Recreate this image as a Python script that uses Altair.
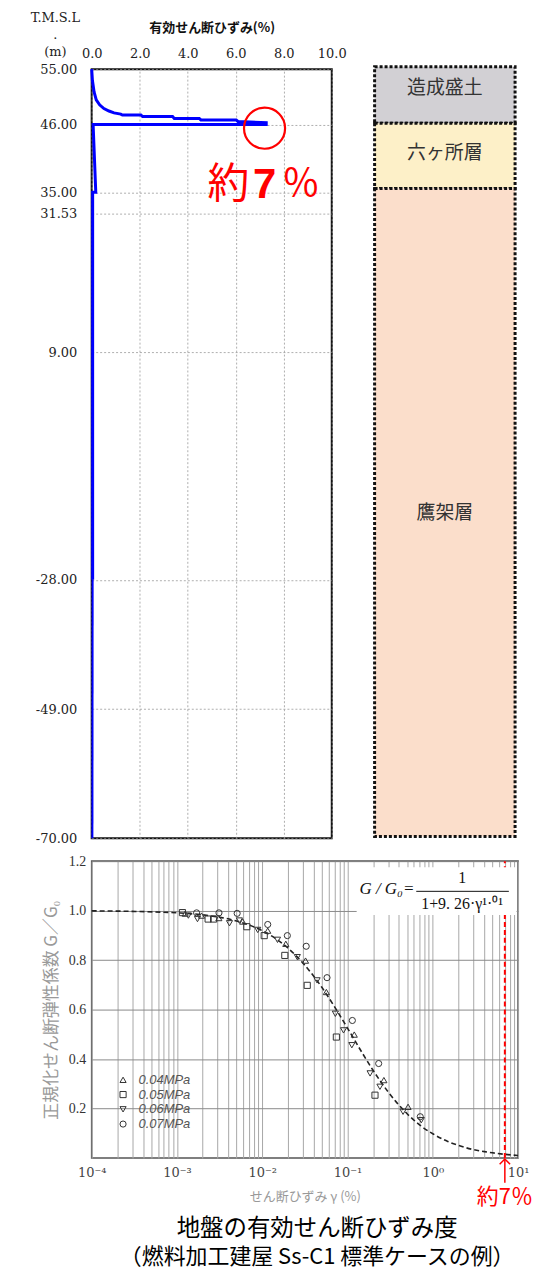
import json
import altair as alt
import pandas as pd

FONT_SERIF = "DejaVu Serif"
FONT_TIMES = "Liberation Serif"
FONT_JP = "Noto Sans CJK JP"

# ---------------- top: effective shear strain profile ----------------
profile_strain = [0.00, 0.03, 0.10, 0.19, 0.33, 0.51, 0.72, 0.93, 1.21, 1.28, 2.05, 2.12,
                  3.37, 3.44, 4.48, 4.55, 6.02, 6.09, 7.27, 7.27, 0.06, 0.17, 0.04, 0.04]
profile_elev = [55.0, 53.2, 51.3, 50.0, 49.2, 48.6, 48.2, 47.9, 47.7, 47.55, 47.55, 47.3,
                47.3, 47.0, 47.0, 46.75, 46.75, 46.5, 46.3, 46.0, 46.0, 35.0, 35.0, -28.0]
lower_strain = [0.04, 0.03]
lower_elev = [-28.0, -70.0]

strain_ticks = [0, 2, 4, 6, 8, 10]
elev_ticks = [55, 46, 35, 31.53, 9, -28, -49, -70]

peak_strain = [7.2]
peak_elev = [45.4]

# soil layers
layer_names = ["造成盛土", "六ヶ所層", "鷹架層"]
layer_top = [55.4, 46.2, 35.6]
layer_bottom = [46.2, 35.6, -69.7]
layer_label_elev = [52.0, 41.3, -17.2]
layer_colors = ["#d2d0d4", "#fdf0c8", "#fbdecb"]

# ---------------- bottom: G/G0 - gamma ----------------
curve_gamma = [0.0001, 0.0003, 0.001, 0.002, 0.005, 0.01, 0.02, 0.03, 0.05, 0.07, 0.1, 0.15,
               0.2, 0.3, 0.5, 0.7, 1.0, 1.5, 2.0, 3.0, 5.0, 7.0, 10.0]
curve_G = [0.999, 0.997, 0.991, 0.983, 0.958, 0.919, 0.849, 0.788, 0.690, 0.613, 0.525, 0.423,
           0.354, 0.267, 0.179, 0.134, 0.098, 0.067, 0.051, 0.034, 0.021, 0.015, 0.010]

p04_gamma = [0.00125, 0.00194, 0.0031, 0.0059, 0.0116, 0.0189, 0.0322, 0.0565, 0.12, 0.267, 0.513]
p04_G = [0.988, 0.980, 0.970, 0.956, 0.919, 0.866, 0.798, 0.671, 0.499, 0.315, 0.207]
p05_gamma = [0.00116, 0.00232, 0.00269, 0.0066, 0.01055, 0.0184, 0.0337, 0.074, 0.21]
p05_G = [0.992, 0.966, 0.966, 0.935, 0.899, 0.819, 0.698, 0.489, 0.254]
p06_gamma = [0.00136, 0.00174, 0.00413, 0.0054, 0.00885, 0.0151, 0.0258, 0.044, 0.072, 0.0898,
             0.1124, 0.184, 0.24, 0.448, 0.733]
p06_G = [0.980, 0.966, 0.949, 0.960, 0.922, 0.882, 0.812, 0.718, 0.583, 0.516, 0.456, 0.342,
         0.288, 0.187, 0.153]
p07_gamma = [0.0017, 0.00311, 0.00508, 0.0116, 0.0197, 0.0328, 0.0575, 0.114, 0.232, 0.713]
p07_G = [0.991, 0.991, 0.989, 0.944, 0.899, 0.856, 0.729, 0.556, 0.382, 0.167]

pressure_names = ["0.04MPa", "0.05MPa", "0.06MPa", "0.07MPa"]
pressure_shapes = ["triangle-up", "square", "triangle-down", "circle"]

decade_values = [0.0001, 0.001, 0.01, 0.1, 1, 10]
decade_labels = ["10⁻⁴", "10⁻³", "10⁻²", "10⁻¹", "10⁰", "10¹"]
minor_values = [m * d for d in decade_values[:-1] for m in range(1, 10)] + [10]
G_ticks = [0.2, 0.4, 0.6, 0.8, 1.0, 1.2]

marker_gamma = [7.0]

LEFT_EXTENT = 70

# ======================= TOP CHART =======================
prof_df = pd.DataFrame({"strain": profile_strain, "elev": profile_elev,
                        "idx": list(range(len(profile_strain)))})
low_df = pd.DataFrame({"strain": lower_strain, "elev": lower_elev, "idx": [0, 1]})

xs = alt.Scale(domain=[0, 10], nice=False)
ys = alt.Scale(domain=[-70, 55], nice=False, zero=False)

x_axis = alt.Axis(orient="top", values=strain_ticks, format=".1f",
                  title="有効せん断ひずみ(%)", titleFont=FONT_JP, titleFontSize=13,
                  titleFontWeight="bold", titleColor="#111", titlePadding=13,
                  labelFont=FONT_SERIF, labelFontSize=13, labelColor="#222",
                  labelPadding=9, labelFlush=False, ticks=False, domain=False,
                  grid=True, gridColor="#9a9a9a", gridDash=[2, 2], gridWidth=0.8)
y_axis = alt.Axis(values=elev_ticks,
                  labelExpr="replace(format(datum.value, '.2f'), '\u2212', '-')",
                  title=["T.M.S.L", ".", "(m)"], titleAngle=0, titleAlign="center",
                  titleBaseline="top", titleX=-37, titleY=-58, titleFont=FONT_SERIF,
                  titleFontSize=13, titleFontWeight="normal", titleColor="#222",
                  titleLineHeight=17, minExtent=LEFT_EXTENT,
                  labelFont=FONT_SERIF, labelFontSize=13, labelColor="#222",
                  labelPadding=15, ticks=False, domain=False,
                  grid=True, gridColor="#9a9a9a", gridDash=[2, 2], gridWidth=0.8)

line_main = alt.Chart(prof_df).mark_line(color="#0000ff", strokeWidth=3).encode(
    x=alt.X("strain:Q", scale=xs, axis=x_axis),
    y=alt.Y("elev:Q", scale=ys, axis=y_axis),
    order="idx:Q")
line_low = alt.Chart(low_df).mark_line(color="#0000ff", strokeWidth=2).encode(
    x=alt.X("strain:Q", scale=xs), y=alt.Y("elev:Q", scale=ys), order="idx:Q")

peak_df = pd.DataFrame({"strain": peak_strain, "elev": peak_elev})
peak_circle = alt.Chart(peak_df).mark_point(shape="circle", size=1700, filled=False,
                                            stroke="#ff0000", strokeWidth=2.2, opacity=1).encode(
    x=alt.X("strain:Q", scale=xs), y=alt.Y("elev:Q", scale=ys))

ann_df = pd.DataFrame({"strain": [5.70, 7.2, 8.71], "elev": [36.2, 36.2, 36.2],
                       "t": ["約", "7", "％"]})
ann1 = alt.Chart(ann_df.iloc[[0]]).mark_text(font=FONT_JP, fontSize=42, color="#ff0000",
                                             baseline="middle").encode(
    x=alt.X("strain:Q", scale=xs), y=alt.Y("elev:Q", scale=ys), text="t:N")
ann2 = alt.Chart(ann_df.iloc[[1]]).mark_text(font="Liberation Sans", fontSize=42,
                                             fontWeight="bold", color="#ff0000",
                                             baseline="middle").encode(
    x=alt.X("strain:Q", scale=xs), y=alt.Y("elev:Q", scale=ys), text="t:N")
ann3 = alt.Chart(ann_df.iloc[[2]]).mark_text(font=FONT_JP, fontSize=38, color="#ff0000",
                                             baseline="middle").encode(
    x=alt.X("strain:Q", scale=xs), y=alt.Y("elev:Q", scale=ys), text="t:N")

top_chart = alt.layer(line_low, line_main, peak_circle, ann1, ann2, ann3).properties(
    width=241, height=772,
    view=alt.ViewBackground(stroke="#111", strokeWidth=2))

# ======================= LAYER BOXES =======================
layer_df = pd.DataFrame({"name": layer_names, "top": layer_top, "bottom": layer_bottom,
                         "lab": layer_label_elev, "x0": [0, 0, 0], "x1": [1, 1, 1],
                         "xm": [0.5, 0.5, 0.5]})
bxs = alt.Scale(domain=[0, 1], nice=False)
boxes = alt.Chart(layer_df).mark_rect(stroke="#111", strokeWidth=3, strokeDash=[3, 2]).encode(
    x=alt.X("x0:Q", scale=bxs, axis=None), x2="x1:Q",
    y=alt.Y("top:Q", scale=ys, axis=None), y2="bottom:Q",
    fill=alt.Fill("name:N", scale=alt.Scale(domain=layer_names, range=layer_colors), legend=None))
box_text = alt.Chart(layer_df).mark_text(font=FONT_JP, fontSize=19, color="#333").encode(
    x=alt.X("xm:Q", scale=bxs, axis=None), y=alt.Y("lab:Q", scale=ys, axis=None), text="name:N")
box_chart = alt.layer(boxes, box_text).properties(
    width=141, height=772, view=alt.ViewBackground(stroke="transparent"))

# ======================= BOTTOM CHART =======================
curve_df = pd.DataFrame({"gamma": curve_gamma, "G": curve_G})
pts = []
for name, gs, Gs in zip(pressure_names, [p04_gamma, p05_gamma, p06_gamma, p07_gamma],
                        [p04_G, p05_G, p06_G, p07_G]):
    for g, v in zip(gs, Gs):
        pts.append({"gamma": g, "G": v, "p": name})
pts_df = pd.DataFrame(pts)

gxs = alt.Scale(type="log", domain=[0.0001, 10], nice=False)
gys = alt.Scale(domain=[0, 1.2], nice=False)

label_expr = ("abs(log(datum.value)/LN10 - round(log(datum.value)/LN10)) < 0.01 ? "
              + json.dumps(decade_labels, ensure_ascii=False)
              + "[round(log(datum.value)/LN10) + 4] : ''")

gx_axis = alt.Axis(values=minor_values, labelExpr=label_expr, labelFont=FONT_SERIF,
                   labelFontSize=13, labelColor="#444", labelPadding=9, labelFlush=False,
                   labelOverlap=False, ticks=False, domain=False, grid=True,
                   gridColor="#a8a8a8", gridWidth=1,
                   title="せん断ひずみ γ (%)", titleFont=FONT_JP, titleFontSize=13,
                   titleFontWeight="normal", titleColor="#999", titlePadding=11)
gy_axis = alt.Axis(values=G_ticks, format=".1f", labelFont=FONT_TIMES, labelFontSize=14,
                   labelColor="#333", labelPadding=6, ticks=False, domain=False, grid=True,
                   gridColor="#8a8a8a", gridWidth=1, minExtent=LEFT_EXTENT,
                   title="正規化せん断弾性係数 G／G₀", titleFont=FONT_JP, titleFontSize=17,
                   titleFontWeight="normal", titleColor="#999", titleX=-40, titleY=149,
                   titleAngle=-90, titleAlign="center", titleBaseline="middle")

curve = alt.Chart(curve_df).mark_line(color="#222", strokeWidth=1.6, strokeDash=[5, 3],
                                      interpolate="monotone").encode(
    x=alt.X("gamma:Q", scale=gxs, axis=gx_axis),
    y=alt.Y("G:Q", scale=gys, axis=gy_axis))

scatter = alt.Chart(pts_df).mark_point(filled=False, color="#333", size=38, strokeWidth=1,
                                       opacity=1).encode(
    x=alt.X("gamma:Q", scale=gxs), y=alt.Y("G:Q", scale=gys),
    shape=alt.Shape("p:N", scale=alt.Scale(domain=pressure_names, range=pressure_shapes),
                    legend=alt.Legend(orient="none", legendX=25, legendY=213, title=None,
                                      labelFont="Liberation Sans", labelFontStyle="italic",
                                      labelFontSize=13, labelColor="#555", symbolSize=38,
                                      symbolStrokeColor="#333", symbolStrokeWidth=1,
                                      rowPadding=0.8, labelOffset=9, padding=0)))

mark_df = pd.DataFrame({"gamma": marker_gamma, "y0": [0.0], "y1": [1.2],
                        "a0": [-0.1], "a1": [-0.004], "ty": [-0.158], "t": ["約7％"]})
red_rule = alt.Chart(mark_df).mark_rule(color="#ff0000", strokeWidth=2, strokeDash=[5, 3]).encode(
    x=alt.X("gamma:Q", scale=gxs), y=alt.Y("y0:Q", scale=gys), y2="y1:Q")
arrow_shaft = alt.Chart(mark_df).mark_rule(color="#ff0000", strokeWidth=1.5).encode(
    x=alt.X("gamma:Q", scale=gxs), y=alt.Y("a0:Q", scale=gys), y2="a1:Q")
arrow_head = alt.Chart(mark_df).mark_point(shape="M -1 1 L 0 0 L 1 1", size=110, filled=False,
                                           stroke="#ff0000", strokeWidth=1.5, opacity=1).encode(
    x=alt.X("gamma:Q", scale=gxs), y=alt.Y("a1:Q", scale=gys))
red_text = alt.Chart(mark_df).mark_text(font=FONT_JP, fontSize=22, color="#ff0000").encode(
    x=alt.X("gamma:Q", scale=gxs), y=alt.Y("ty:Q", scale=gys), text="t:N")

fbox_df = pd.DataFrame({"x0": [0.128], "x1": [9.6], "y0": [0.982], "y1": [1.175]})
fbox = alt.Chart(fbox_df).mark_rect(fill="white").encode(
    x=alt.X("x0:Q", scale=gxs), x2="x1:Q", y=alt.Y("y0:Q", scale=gys), y2="y1:Q")

ftext_df = pd.DataFrame({"gamma": [0.29, 2.21, 2.21], "G": [1.089, 1.13, 1.028],
                         "t": ["G / G₀=", "1", "1+9. 26·γ¹·⁰¹"]})
f_lhs = alt.Chart(ftext_df.iloc[[0]]).mark_text(font=FONT_TIMES, fontSize=17,
                                                fontStyle="italic", color="#111").encode(
    x=alt.X("gamma:Q", scale=gxs), y=alt.Y("G:Q", scale=gys), text="t:N")
f_rest = alt.Chart(ftext_df.iloc[[1, 2]]).mark_text(font=FONT_TIMES, fontSize=16,
                                                   color="#111").encode(
    x=alt.X("gamma:Q", scale=gxs), y=alt.Y("G:Q", scale=gys), text="t:N")
frac_df = pd.DataFrame({"x0": [0.64], "x1": [7.8], "y": [1.078]})
frac = alt.Chart(frac_df).mark_rule(color="#111", strokeWidth=1).encode(
    x=alt.X("x0:Q", scale=gxs), x2="x1:Q", y=alt.Y("y:Q", scale=gys))

bottom_chart = alt.layer(curve, scatter, red_rule, fbox, f_lhs, f_rest, frac,
                         arrow_shaft, arrow_head, red_text).properties(
    width=428, height=298, view=alt.ViewBackground(stroke="#555", strokeWidth=1.6))

top_row = alt.hconcat(top_chart, box_chart, spacing=43, bounds="flush")
chart = alt.vconcat(top_row, bottom_chart, spacing=7).resolve_legend(
    shape="independent").properties(
    padding={"left": 13, "top": 0, "right": 0, "bottom": 0},
    title=alt.TitleParams(text="地盤の有効せん断ひずみ度",
                          subtitle="（燃料加工建屋 Ss-C1 標準ケースの例）",
                          orient="bottom", anchor="middle", font=FONT_JP, fontSize=23.5,
                          fontWeight="normal", color="#000", subtitleFont=FONT_JP,
                          subtitleFontSize=22, subtitleColor="#000", subtitlePadding=7,
                          offset=8, dx=40)
).configure(background="white")

chart.save("out.html", embed_options={"renderer": "svg", "actions": False})
